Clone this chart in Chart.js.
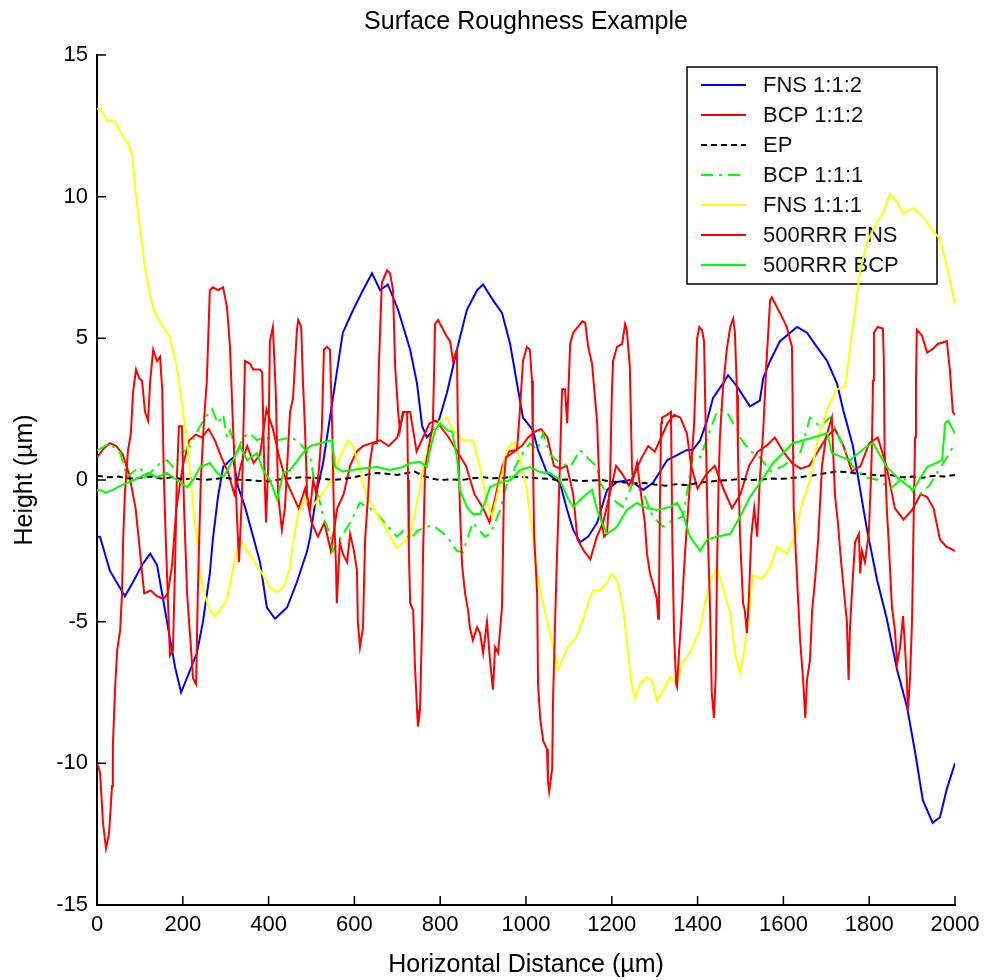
<!DOCTYPE html>
<html><head><meta charset="utf-8">
<script src="https://cdn.jsdelivr.net/npm/chart.js@4.4.1/dist/chart.umd.min.js"></script>
<style>html,body{margin:0;padding:0;background:#fff;overflow:hidden}</style>
</head><body>
<canvas id="c" width="987" height="980" style="display:block;width:987px;height:980px"></canvas>
<script>
const chartTitle = 'Surface Roughness Example';
const xAxisTitle = 'Horizontal Distance (µm)';
const yAxisTitle = 'Height (µm)';
const xTicks = [0,200,400,600,800,1000,1200,1400,1600,1800,2000];
const yTicks = [-15,-10,-5,0,5,10,15];
const seriesNames = ['FNS 1:1:2','BCP 1:1:2','EP','BCP 1:1:1','FNS 1:1:1','500RRR FNS','500RRR BCP'];

// [distance (µm), height (µm)]
const fns112 = [[0,-2.0],[7,-2.0],[30,-3.2],[65,-4.1],[84,-3.6],[105,-3.0],[124,-2.6],[140,-3.0],[154,-4.2],[170,-5.6],[182,-6.6],[196,-7.5],[212,-6.9],[233,-6.1],[247,-5.0],[263,-3.3],[270,-2.1],[282,-0.6],[294,0.46],[310,0.7],[317,0.78],[329,-0.25],[345,-0.95],[364,-2.0],[380,-2.9],[396,-4.5],[415,-4.9],[443,-4.5],[466,-3.6],[490,-2.5],[497,-2.0],[513,-0.35],[527,0.6],[550,2.9],[573,5.2],[597,6.0],[620,6.7],[641,7.3],[660,6.7],[678,6.9],[702,6.0],[730,4.6],[746,3.4],[758,1.9],[769,1.5],[793,1.9],[816,3.1],[839,4.6],[862,6.0],[886,6.7],[900,6.9],[923,6.35],[944,5.9],[963,4.8],[986,2.8],[993,2.2],[1016,1.76],[1028,1.06],[1049,0.25],[1079,-0.1],[1096,-1.06],[1110,-1.76],[1126,-2.2],[1145,-2.0],[1166,-1.5],[1189,-0.35],[1212,-0.07],[1242,0],[1273,-0.35],[1296,-0.1],[1329,0.7],[1352,0.88],[1375,1.06],[1389,1.06],[1406,1.4],[1422,2.1],[1436,2.9],[1459,3.4],[1471,3.7],[1492,3.3],[1522,2.6],[1545,2.8],[1553,3.6],[1569,4.2],[1592,4.9],[1632,5.4],[1655,5.2],[1678,4.7],[1702,4.2],[1725,3.4],[1739,2.5],[1762,1.2],[1779,-0.35],[1795,-1.76],[1818,-3.5],[1841,-4.9],[1865,-6.7],[1888,-8.0],[1907,-9.6],[1925,-11.3],[1948,-12.1],[1965,-11.9],[1981,-10.9],[2000,-10.0]];

const bcp112 = [[0,0.8],[15,1.1],[30,1.3],[45,1.2],[60,0.9],[75,0.2],[90,-1.0],[100,-2.5],[110,-4.0],[125,-3.9],[140,-4.1],[155,-4.2],[165,-4.0],[175,-3.0],[185,-1.0],[200,0.5],[215,1.4],[230,1.6],[245,1.5],[260,1.8],[275,1.4],[290,0.8],[305,0.3],[320,-0.5],[335,0.5],[350,1.2],[365,0.6],[380,0.9],[395,2.5],[410,1.8],[425,0.8],[440,0.0],[455,-0.5],[470,-1.0],[485,-0.3],[500,-1.5],[515,-2.0],[530,-1.5],[545,-2.5],[560,-1.0],[575,-0.5],[590,0.5],[605,1.0],[620,1.2],[640,1.3],[660,1.4],[680,1.2],[700,1.5],[715,2.4],[730,2.4],[745,1.0],[760,1.5],[775,2.0],[790,2.1],[805,1.8],[820,1.5],[840,1.0],[860,0.5],[880,-0.5],[900,-1.0],[915,-1.5],[930,-0.5],[945,0.5],[960,1.0],[975,1.06],[990,1.2],[1005,1.5],[1020,1.7],[1035,1.8],[1050,1.5],[1065,0.5],[1080,0.4],[1095,0.5],[1110,-0.5],[1120,-2.1],[1135,-2.5],[1150,-2.8],[1165,-2.0],[1180,-1.5],[1195,-0.5],[1210,0.5],[1225,0.2],[1240,-0.2],[1255,0.3],[1270,0.8],[1285,1.2],[1300,1.0],[1315,1.5],[1330,2.0],[1345,2.3],[1360,2.2],[1375,1.65],[1385,0.5],[1400,-0.3],[1420,0.2],[1440,0.5],[1460,-0.3],[1480,-1.0],[1500,-0.5],[1520,0.5],[1540,1.0],[1560,1.2],[1580,1.5],[1600,1.0],[1620,0.6],[1640,0.4],[1660,0.5],[1680,1.0],[1700,1.5],[1720,1.8],[1740,1.2],[1760,0.3],[1780,0.5],[1800,1.3],[1820,1.5],[1840,0.5],[1860,-1.0],[1880,-1.4],[1900,-1.06],[1920,-0.5],[1935,-0.6],[1950,-1.0],[1965,-2.1],[1980,-2.35],[2000,-2.5]];

const ep = [[0,0.15],[25,0.1],[50,0.12],[75,0.05],[100,0.08],[125,0.12],[150,0.05],[175,0.1],[200,0.02],[225,0.06],[250,0.0],[275,0.04],[300,0.08],[325,0.02],[350,0.0],[375,-0.03],[400,-0.05],[425,0.02],[450,0.06],[475,0.1],[500,0.08],[525,0.05],[550,0.0],[575,0.04],[600,0.1],[625,0.18],[650,0.25],[675,0.22],[700,0.18],[725,0.25],[740,0.3],[760,0.15],[780,0.05],[800,0.0],[825,0.02],[850,0.0],[875,0.06],[900,0.1],[925,0.06],[950,0.08],[975,0.12],[1000,0.1],[1025,0.06],[1050,0.04],[1075,0.0],[1100,0.02],[1125,-0.04],[1150,-0.02],[1175,0.0],[1200,-0.05],[1225,-0.08],[1250,-0.12],[1275,-0.1],[1300,-0.16],[1325,-0.2],[1350,-0.15],[1375,-0.18],[1400,-0.1],[1425,-0.06],[1450,-0.02],[1475,0.0],[1500,0.04],[1525,0.0],[1550,0.02],[1575,0.05],[1600,0.04],[1625,0.08],[1650,0.12],[1675,0.18],[1700,0.25],[1725,0.3],[1750,0.28],[1775,0.22],[1800,0.2],[1825,0.15],[1850,0.18],[1875,0.1],[1900,0.12],[1925,0.08],[1950,0.15],[1975,0.12],[2000,0.18]];

const bcp111 = [[0,1.06],[7,1.1],[30,1.3],[54,0.95],[70,0.1],[85,0.3],[100,0.46],[112,0.1],[131,0.35],[147,0.6],[163,0.7],[177,0.46],[198,0.95],[217,1.2],[240,1.9],[252,2.2],[268,2.5],[282,2.0],[294,2.3],[303,1.5],[310,1.76],[326,0.95],[340,1.5],[357,1.65],[373,1.4],[387,1.5],[420,1.4],[450,1.5],[466,1.4],[490,1.0],[497,0.8],[510,-0.3],[520,-0.8],[527,-1.3],[543,-1.9],[550,-2.5],[566,-2.1],[590,-1.5],[613,-0.8],[636,-1.0],[653,-1.2],[676,-1.6],[699,-2.0],[713,-1.8],[730,-2.1],[746,-1.8],[769,-1.65],[783,-1.6],[800,-1.8],[816,-2.0],[839,-2.5],[853,-2.55],[876,-1.5],[893,-1.8],[904,-2.0],[916,-1.9],[939,-1.1],[956,-0.1],[970,0.3],[986,0.8],[1009,1.3],[1026,1.06],[1040,1.65],[1056,0.9],[1079,0.6],[1103,0.46],[1126,1.06],[1149,0.7],[1166,0.46],[1172,-0.1],[1189,-0.46],[1212,-0.8],[1226,-0.95],[1249,-0.1],[1273,-0.46],[1296,-1.3],[1319,-1.65],[1343,-1.4],[1366,-1.3],[1389,0.8],[1406,0.8],[1429,1.76],[1445,2.4],[1452,2.5],[1468,2.4],[1483,2.0],[1494,1.76],[1499,1.5],[1520,1.06],[1545,0.8],[1570,0.3],[1600,0.5],[1640,1.0],[1662,2.2],[1685,1.9],[1709,2.2],[1730,1.5],[1760,0.5],[1790,0.1],[1820,0.0],[1850,-0.3],[1880,0.1],[1910,-0.6],[1940,-0.2],[1960,0.3],[1985,0.9],[2000,1.3]];

const fns111 = [[0,13.1],[7,13.1],[23,12.7],[42,12.65],[61,12.1],[72,11.9],[82,11.5],[89,10.3],[100,8.9],[112,7.5],[124,6.5],[135,5.9],[152,5.45],[170,5.05],[186,4.0],[198,2.7],[210,1.4],[217,0.25],[224,-0.95],[233,-2.1],[240,-3.3],[252,-4.1],[263,-4.6],[275,-4.8],[291,-4.5],[303,-4.2],[315,-3.3],[326,-2.5],[338,-2.2],[350,-2.5],[364,-2.8],[385,-3.3],[403,-3.8],[420,-3.95],[434,-3.8],[450,-3.1],[457,-2.2],[469,-1.2],[485,-0.64],[501,-0.95],[520,-0.6],[543,-0.1],[566,0.8],[585,1.4],[597,1.2],[613,0.35],[629,-0.6],[653,-1.2],[676,-1.8],[699,-2.4],[713,-2.2],[730,-2.0],[746,-0.8],[760,0.35],[776,1.5],[800,2.1],[816,2.2],[830,1.76],[853,1.4],[876,1.4],[893,0.46],[909,-0.8],[921,-1.3],[939,-0.1],[956,1.06],[970,1.34],[986,0.8],[1002,-0.35],[1016,-2.0],[1026,-3.3],[1040,-4.35],[1056,-5.4],[1068,-6.2],[1075,-6.7],[1084,-6.35],[1098,-5.9],[1119,-5.5],[1133,-4.9],[1145,-4.35],[1156,-3.9],[1172,-3.9],[1189,-3.6],[1200,-3.3],[1214,-3.6],[1226,-4.5],[1238,-6.1],[1247,-7.3],[1254,-7.7],[1266,-7.2],[1282,-6.95],[1294,-7.06],[1305,-7.8],[1317,-7.5],[1336,-6.95],[1352,-7.2],[1364,-6.45],[1382,-6.1],[1405,-5.3],[1417,-4.35],[1429,-3.6],[1445,-3.1],[1459,-3.8],[1476,-4.7],[1487,-6.1],[1499,-6.8],[1510,-5.9],[1522,-4.5],[1529,-3.35],[1550,-3.5],[1569,-3.1],[1585,-2.35],[1608,-2.6],[1632,-1.76],[1639,-1.06],[1662,0],[1678,1.3],[1702,2.5],[1725,3.2],[1744,3.3],[1755,4.6],[1767,6.0],[1779,7.4],[1795,8.4],[1818,9.1],[1832,9.4],[1848,10.1],[1865,9.8],[1879,9.4],[1902,9.6],[1925,9.3],[1949,8.8],[1965,8.5],[1977,7.8],[1988,7.06],[2000,6.2]];

const rrrFns = [[0,-10.0],[7,-10.3],[14,-12.1],[21,-13.0],[28,-12.5],[35,-10.8],[37,-9.4],[42,-7.4],[47,-6.0],[54,-5.3],[58,-4.1],[61,-2.1],[65,-0.5],[72,1.0],[79,1.65],[84,3.1],[91,3.9],[98,3.6],[105,3.5],[112,2.4],[119,2.1],[124,3.5],[131,4.6],[140,4.2],[147,4.35],[152,3.2],[156,0.0],[161,-2.4],[166,-4.5],[170,-6.2],[177,-6.0],[182,-3.0],[186,0.0],[191,1.9],[198,1.9],[203,-1.0],[210,-4.0],[217,-5.5],[224,-7.0],[231,-7.2],[235,-4.0],[242,0.0],[249,2.0],[256,3.5],[263,6.7],[270,6.8],[282,6.7],[294,6.8],[303,6.1],[310,4.7],[317,1.9],[324,-0.5],[331,-2.9],[338,-0.5],[345,4.2],[357,4.1],[364,3.9],[380,3.9],[385,3.8],[389,1.0],[394,-1.5],[399,0.5],[403,4.9],[410,5.4],[417,3.0],[422,-0.5],[431,-1.76],[438,-1.0],[445,1.0],[450,2.4],[457,2.9],[466,5.3],[469,5.65],[476,5.4],[480,3.5],[485,1.76],[490,-0.6],[497,-1.0],[504,0.0],[511,-0.5],[518,0.5],[524,1.76],[529,4.6],[536,4.7],[543,4.6],[548,2.0],[552,-1.0],[557,-3.0],[559,-4.35],[566,-2.2],[573,-2.6],[583,-2.9],[590,-1.9],[599,-2.5],[606,-3.2],[608,-5.0],[613,-5.9],[620,-5.2],[625,-2.1],[632,-0.5],[636,0.6],[643,1.3],[653,1.3],[657,4.0],[664,6.95],[676,7.4],[683,7.3],[690,6.7],[695,4.0],[702,2.4],[706,1.76],[713,2.4],[723,2.4],[725,0.0],[727,-2.5],[730,-4.35],[737,-4.6],[741,-6.5],[746,-8.1],[748,-8.7],[753,-8.1],[758,-4.9],[760,-2.6],[765,0.46],[772,1.0],[783,2.0],[786,4.0],[788,5.5],[795,5.65],[807,5.3],[816,5.05],[823,4.9],[830,4.2],[839,4.6],[841,2.0],[846,-1.0],[851,-3.0],[858,-4.0],[865,-4.6],[869,-5.2],[876,-5.65],[886,-5.2],[893,-5.4],[900,-6.1],[909,-5.0],[916,-6.35],[923,-7.4],[928,-5.9],[935,-6.1],[944,-4.5],[946,-2.8],[949,0.0],[953,0.8],[963,0.9],[979,1.06],[986,2.5],[993,4.2],[1002,4.7],[1009,4.6],[1014,3.5],[1016,1.0],[1019,-2.0],[1026,-4.0],[1028,-7.2],[1033,-8.4],[1040,-9.2],[1049,-9.5],[1051,-10.6],[1054,-11.0],[1061,-10.2],[1063,-7.8],[1068,-4.9],[1072,-2.8],[1075,-1.4],[1079,0.5],[1084,3.2],[1091,3.2],[1096,2.0],[1103,4.8],[1110,5.2],[1121,5.4],[1131,5.6],[1138,5.55],[1145,4.7],[1154,4.1],[1166,2.0],[1168,1.06],[1173,-1.0],[1177,-1.5],[1182,-2.0],[1189,-1.9],[1196,0.0],[1200,3.0],[1203,4.2],[1212,4.7],[1224,4.8],[1231,5.5],[1235,5.3],[1242,4.0],[1247,0.46],[1249,0.0],[1259,0.6],[1268,-0.5],[1277,-1.5],[1282,-2.6],[1289,-3.3],[1296,-3.65],[1305,-4.2],[1308,-4.9],[1310,-4.2],[1312,-1.0],[1315,2.0],[1317,2.2],[1329,2.3],[1338,2.4],[1341,-2.0],[1345,-5.4],[1350,-7.2],[1352,-7.3],[1357,-6.0],[1362,-4.9],[1366,-3.8],[1371,-2.5],[1378,-1.0],[1385,0.5],[1392,2.0],[1399,5.0],[1404,5.4],[1410,5.3],[1415,4.9],[1420,1.0],[1424,-2.0],[1429,-4.5],[1433,-7.5],[1438,-8.4],[1442,-7.0],[1445,-3.4],[1449,0.0],[1452,1.5],[1459,3.2],[1468,4.6],[1476,5.4],[1483,5.7],[1487,5.2],[1492,3.0],[1494,1.0],[1499,-2.0],[1506,-4.35],[1510,-4.6],[1515,-5.4],[1520,-4.0],[1525,-2.0],[1532,-1.0],[1539,-2.0],[1545,0.0],[1553,1.76],[1560,4.0],[1569,6.35],[1573,6.45],[1585,6.1],[1597,5.75],[1608,5.4],[1620,4.7],[1622,2.0],[1624,-1.0],[1630,-2.9],[1639,-5.65],[1646,-7.06],[1651,-8.4],[1655,-7.06],[1662,-6.35],[1667,-4.6],[1674,-3.5],[1681,-2.1],[1685,-0.95],[1690,0.5],[1699,1.5],[1713,2.2],[1716,1.0],[1720,-0.5],[1727,-1.5],[1734,-2.8],[1741,-3.9],[1748,-5.0],[1752,-7.06],[1755,-5.3],[1760,-3.9],[1767,-2.2],[1776,-1.9],[1779,-3.3],[1783,-2.5],[1790,-2.9],[1799,-1.9],[1804,0.0],[1806,1.0],[1809,3.5],[1811,5.2],[1820,5.4],[1832,5.35],[1834,4.3],[1836,1.0],[1841,-1.0],[1846,-2.35],[1853,-4.5],[1860,-5.3],[1865,-6.5],[1872,-5.9],[1879,-4.8],[1888,-7.06],[1890,-8.2],[1895,-7.06],[1900,-4.9],[1904,-1.0],[1907,1.5],[1909,3.5],[1911,5.3],[1923,5.1],[1935,4.5],[1946,4.6],[1960,4.8],[1981,4.9],[1988,3.9],[1995,2.4],[2000,2.3]];

const rrrBcp = [[0,-0.35],[7,-0.35],[20,-0.45],[37,-0.35],[55,-0.2],[70,-0.1],[85,0.0],[100,0.1],[119,0.25],[140,0.1],[163,0.25],[186,0.0],[210,-0.25],[224,0.0],[240,0.46],[263,0.6],[280,0.25],[294,0.1],[317,0.7],[333,1.2],[350,0.7],[373,0.95],[387,0.35],[403,0.0],[420,-0.7],[434,0.25],[450,0.35],[480,0.95],[497,1.2],[520,1.3],[548,1.4],[555,0.46],[573,0.3],[613,0.4],[653,0.46],[683,0.35],[713,0.46],[730,0.6],[753,0.64],[769,0.46],[776,1.06],[788,1.76],[800,2.0],[816,1.76],[828,1.7],[839,0.8],[846,-0.35],[862,-0.95],[876,-1.2],[893,-1.2],[904,-0.8],[916,-0.25],[939,-0.1],[963,0.0],[986,0.35],[1009,0.46],[1033,0.28],[1056,0.25],[1079,0.0],[1096,-0.6],[1110,-0.95],[1133,-0.6],[1154,-0.35],[1166,-1.06],[1177,-1.5],[1189,-1.9],[1212,-1.65],[1235,-1.06],[1259,-0.8],[1273,-0.95],[1305,-1.06],[1336,-0.95],[1352,-0.8],[1366,-1.2],[1382,-2.0],[1399,-2.35],[1406,-2.5],[1422,-2.1],[1445,-2.0],[1476,-1.9],[1499,-1.3],[1522,-0.6],[1545,-0.1],[1576,0.6],[1622,1.3],[1669,1.5],[1702,1.65],[1713,0.95],[1755,0.7],[1795,1.2],[1809,1.3],[1841,0.46],[1865,0.1],[1902,-0.35],[1935,0.46],[1970,0.7],[1977,2.0],[1984,2.1],[2000,1.65]];

const seriesData = [fns112, bcp112, ep, bcp111, fns111, rrrFns, rrrBcp];
const seriesColors = ['#0000ff','#ff0000','#000000','#00ff00','#ffff00','#ff0000','#00ff00'];
const seriesDash = [[],[],[6,4],[12,6,3,6],[],[],[]];

const FONT = "'Liberation Sans', Arial, Helvetica, sans-serif";
Chart.defaults.font.family = FONT;
Chart.defaults.color = '#000';

const datasets = seriesNames.map((name, i) => ({
  label: name,
  data: seriesData[i].map(p => ({x: p[0], y: p[1]})),
  borderColor: seriesColors[i],
  backgroundColor: seriesColors[i],
  borderDash: seriesDash[i],
  borderWidth: 2,
  pointRadius: 0,
  fill: false,
  tension: 0,
  order: seriesNames.length - i
}));

const innerTicks = {
  id: 'innerTicks',
  afterDatasetsDraw(chart) {
    const {ctx, chartArea: a, scales: {x, y}} = chart;
    ctx.save();
    ctx.strokeStyle = '#000';
    ctx.lineWidth = 1.5;
    ctx.beginPath();
    xTicks.forEach(v => { const p = x.getPixelForValue(v); ctx.moveTo(p, a.bottom); ctx.lineTo(p, a.bottom - 9); });
    yTicks.forEach(v => { const p = y.getPixelForValue(v); ctx.moveTo(a.left, p); ctx.lineTo(a.left + 9, p); });
    ctx.stroke();
    ctx.restore();
  }
};

const boxLegend = {
  id: 'boxLegend',
  beforeDatasetsDraw(chart) {
    const {ctx, chartArea: a} = chart;
    const right = a.right - 18, top = a.top + 12;
    const w = 250, rowH = 30;
    const h = 18 + rowH * (datasets.length - 1) + 19;
    const left = right - w;
    ctx.save();
    ctx.fillStyle = '#fff';
    ctx.fillRect(left, top, w, h);
    ctx.strokeStyle = '#000';
    ctx.lineWidth = 1.5;
    ctx.strokeRect(left, top, w, h);
    ctx.font = '22px ' + FONT;
    ctx.textBaseline = 'middle';
    ctx.textAlign = 'left';
    chart.data.datasets.forEach((ds, i) => {
      const yy = top + 18 + rowH * i;
      ctx.strokeStyle = ds.borderColor;
      ctx.lineWidth = 2;
      ctx.setLineDash(ds.borderDash || []);
      ctx.beginPath();
      ctx.moveTo(left + 14, yy);
      ctx.lineTo(left + 59, yy);
      ctx.stroke();
      ctx.setLineDash([]);
      ctx.fillStyle = '#111';
      ctx.fillText(ds.label, left + 76, yy + 1);
    });
    ctx.restore();
  }
};

new Chart(document.getElementById('c'), {
  type: 'line',
  data: { datasets },
  options: {
    responsive: false,
    animation: false,
    devicePixelRatio: 1,
    layout: { padding: { top: 0, right: 32, bottom: 0, left: 0 } },
    plugins: {
      legend: { display: false },
      tooltip: { enabled: false },
      title: { display: true, fullSize: false, text: chartTitle, color: '#000', font: { size: 25, weight: 'normal' }, padding: { top: 7, bottom: 18 } }
    },
    scales: {
      x: {
        type: 'linear', min: 0, max: 2000,
        afterBuildTicks: s => { s.ticks = xTicks.map(v => ({value: v})); },
        afterFit: s => { s.height = 75; },
        ticks: { callback: v => String(v), font: { size: 22 }, color: '#000', padding: 7, maxRotation: 0, autoSkip: false },
        grid: { display: false, drawTicks: false },
        border: { display: true, color: '#000', width: 2 },
        title: { display: true, text: xAxisTitle, color: '#000', font: { size: 25 }, padding: { top: 0, bottom: 0 } }
      },
      y: {
        type: 'linear', min: -15, max: 15,
        afterBuildTicks: s => { s.ticks = yTicks.map(v => ({value: v})); },
        afterFit: s => { s.width = 97; },
        ticks: { callback: v => String(v), font: { size: 22 }, color: '#000', padding: 9, autoSkip: false },
        grid: { display: false, drawTicks: false },
        border: { display: true, color: '#000', width: 2 },
        title: { display: true, text: yAxisTitle, color: '#000', font: { size: 25 }, padding: { top: 10, bottom: 0 } }
      }
    }
  },
  plugins: [boxLegend, innerTicks]
});
</script>
</body></html>
